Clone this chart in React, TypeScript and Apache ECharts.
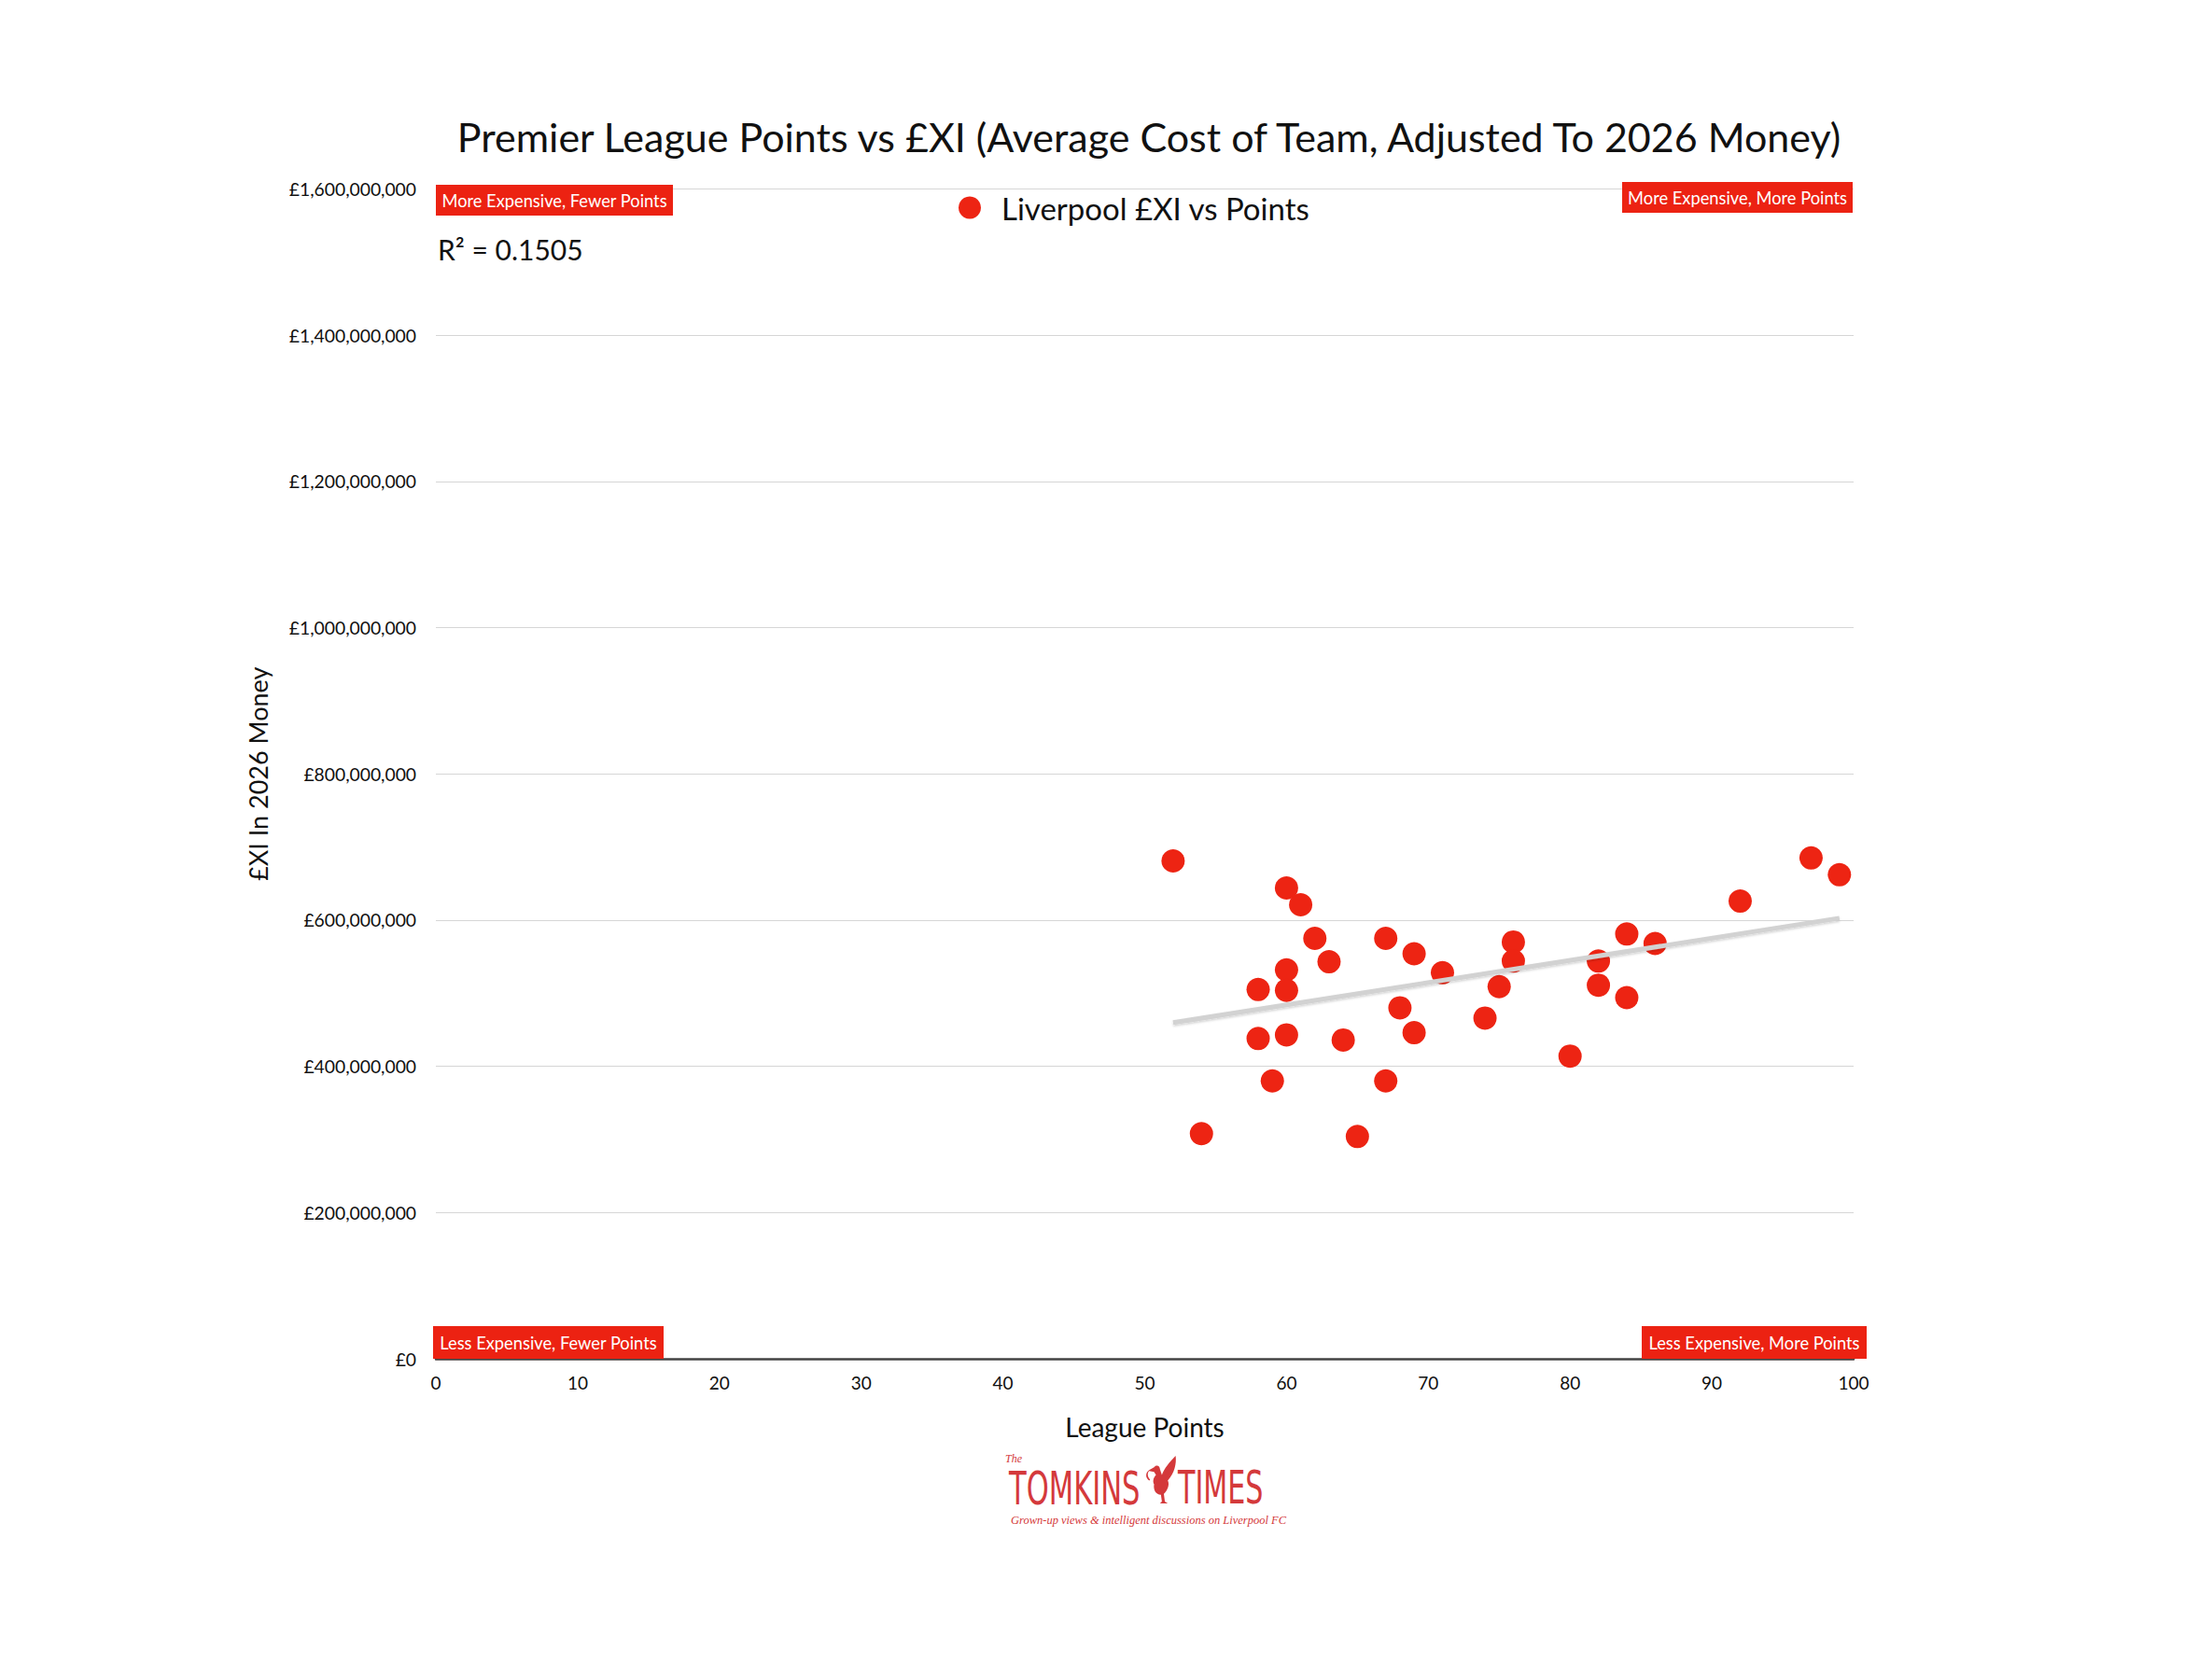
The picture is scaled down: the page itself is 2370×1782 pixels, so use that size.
import React, { useEffect, useRef } from "react";
import * as echarts from "echarts";

// League points per season
const leaguePoints = [
  52, 54, 58, 58, 59, 60, 60, 60, 60, 61, 62, 63, 64, 65, 67, 67, 68,
  69, 69, 71, 74, 75, 76, 76, 80, 82, 82, 84, 84, 86, 92, 97, 99,
];
// £XI in 2026 money, in millions of pounds
const xiCostMillions = [
  681, 308, 505, 438, 380, 644, 532, 504, 443, 621, 575, 543, 436, 304, 575, 380, 480,
  554, 446, 528, 466, 509, 570, 544, 414, 544, 511, 581, 494, 568, 626, 685, 662,
];
const xTicks = [0, 100, 10]; // min, max, interval
const yTicks = [0, 1600000000, 200000000]; // min, max, interval
const seriesName = "Liverpool £XI vs Points";
const rSquaredText = "R² = 0.1505";
const quadrantLabels = [
  "More Expensive, Fewer Points",
  "More Expensive, More Points",
  "Less Expensive, Fewer Points",
  "Less Expensive, More Points",
];

const RED = "#ED2413";
const FONT = "Lato, 'Noto Sans', sans-serif";

const birdPath =
  "M10 12 C12 9 16 10 16 14 L18 20 C20 14 26 6 32 0 C33 8 31 18 24 26 C26 30 24 36 20 40 L21 48 L24 50 L16 50 L18 48 L17 41 C12 41 9 36 10 30 C8 26 10 22 12 20 L10 17 L5 16 C3 18 3 22 6 25 L5 26 C1 23 1 18 5 15 Z";

let registered = false;

function regression(xs: number[], ys: number[]) {
  const n = xs.length;
  let sx = 0, sy = 0, sxx = 0, sxy = 0;
  for (let i = 0; i < n; i++) {
    sx += xs[i];
    sy += ys[i];
    sxx += xs[i] * xs[i];
    sxy += xs[i] * ys[i];
  }
  const slope = (n * sxy - sx * sy) / (n * sxx - sx * sx);
  const intercept = (sy - slope * sx) / n;
  return { slope, intercept };
}

function quadBox(label: string, x: number, y: number, w: number, h: number) {
  return {
    type: "group",
    x,
    y,
    z: 100,
    children: [
      { type: "rect", z: 100, shape: { x: 0, y: 0, width: w, height: h }, style: { fill: "#EC2212" } },
      {
        type: "text",
        z: 101,
        x: w / 2,
        y: h / 2,
        style: {
          text: label,
          fill: "#ffffff",
          font: `18.3px ${FONT}`,
          align: "center",
          verticalAlign: "middle",
        },
      },
    ],
  };
}

export default function App() {
  const ref = useRef<HTMLDivElement>(null);

  useEffect(() => {
    document.body.style.margin = "0";
    if (!registered) {
      echarts.graphic.registerShape("liverbird", echarts.graphic.extendPath(birdPath, {}));
      registered = true;
    }
    const chart = echarts.init(ref.current!, null, { renderer: "svg" });

    const values = xiCostMillions.map((v) => v * 1e6);
    const data = leaguePoints.map((p, i) => [p, values[i]]);
    const { slope, intercept } = regression(leaguePoints, values);
    const xMin = Math.min(...leaguePoints);
    const xMax = Math.max(...leaguePoints);
    const trend = [
      [xMin, intercept + slope * xMin],
      [xMax, intercept + slope * xMax],
    ];

    const logoRed = "#D4393B";
    const logoFont = `50px 'DejaVu Sans Condensed', 'DejaVu Sans', sans-serif`;

    chart.setOption({
      animation: false,
      backgroundColor: "#ffffff",
      textStyle: { fontFamily: FONT },
      title: {
        text: "Premier League Points vs £XI (Average Cost of Team, Adjusted To 2026 Money)",
        left: 1226,
        top: 120,
        textAlign: "center",
        textStyle: { fontFamily: FONT, fontSize: 43, fontWeight: "normal", color: "#111" },
      },
      legend: {
        data: [seriesName],
        left: 1022,
        top: 201,
        icon: "circle",
        itemWidth: 24,
        itemHeight: 24,
        textStyle: { fontFamily: FONT, fontSize: 33, color: "#111", padding: [0, 0, 0, 17] },
      },
      grid: { left: 467, right: 384, top: 202.5, bottom: 326, containLabel: false },
      xAxis: {
        type: "value",
        min: xTicks[0],
        max: xTicks[1],
        interval: xTicks[2],
        name: "League Points",
        nameLocation: "middle",
        nameGap: 59,
        nameTextStyle: { fontFamily: FONT, fontSize: 28, color: "#111" },
        axisLine: { show: true, lineStyle: { color: "#444", width: 2.5 } },
        axisTick: { show: false },
        splitLine: { show: false },
        axisLabel: { fontFamily: FONT, fontSize: 19, color: "#111", margin: 16 },
      },
      yAxis: {
        type: "value",
        min: yTicks[0],
        max: yTicks[1],
        interval: yTicks[2],
        name: "£XI In 2026 Money",
        nameLocation: "middle",
        nameGap: 177,
        nameRotate: 90,
        nameTextStyle: { fontFamily: FONT, fontSize: 27, color: "#111" },
        axisLine: { show: false },
        axisTick: { show: false },
        splitLine: { show: true, lineStyle: { color: "#d6d6d6", width: 1.2 } },
        axisLabel: {
          fontFamily: FONT,
          fontSize: 19.3,
          color: "#111",
          margin: 21,
          formatter: (v: number) => "£" + v.toLocaleString("en-US"),
        },
      },
      series: [
        {
          name: seriesName,
          type: "scatter",
          data,
          symbol: "circle",
          symbolSize: 25,
          itemStyle: { color: RED, opacity: 1 },
          z: 2,
        },
        {
          name: "Trend",
          type: "line",
          data: trend,
          symbol: "none",
          lineStyle: {
            color: "#d2d2d2",
            width: 5,
            shadowColor: "rgba(0,0,0,0.18)",
            shadowBlur: 2,
            shadowOffsetY: 1.5,
          },
          z: 3,
          silent: true,
        },
      ],
      graphic: [
        {
          type: "text",
          x: 469,
          y: 267,
          z: 100,
          style: {
            text: rSquaredText,
            font: `30px ${FONT}`,
            fill: "#111",
            verticalAlign: "middle",
          },
        },
        quadBox(quadrantLabels[0], 467, 198, 254, 33),
        quadBox(quadrantLabels[1], 1738, 195, 247, 33),
        quadBox(quadrantLabels[2], 464, 1421, 247, 35),
        quadBox(quadrantLabels[3], 1759, 1421, 241, 35),
        {
          type: "group",
          x: 0,
          y: 0,
          z: 100,
          children: [
            {
              type: "text",
              x: 1077,
              y: 1563,
              style: {
                text: "The",
                font: `italic 12px 'Liberation Serif', serif`,
                fill: logoRed,
                verticalAlign: "middle",
              },
            },
            {
              type: "text",
              x: 1081,
              y: 1594,
              scaleX: 0.68,
              style: {
                text: "TOMKINS",
                font: logoFont,
                fill: logoRed,
                verticalAlign: "middle",
              },
            },
            {
              type: "liverbird",
              x: 1226,
              y: 1560,
              scaleX: 1.05,
              scaleY: 1.02,
              style: { fill: logoRed },
            },
            {
              type: "text",
              x: 1262,
              y: 1594,
              scaleX: 0.67,
              style: {
                text: "TIMES",
                font: logoFont,
                fill: logoRed,
                verticalAlign: "middle",
              },
            },
            {
              type: "text",
              x: 1083,
              y: 1629,
              style: {
                text: "Grown-up views & intelligent discussions on Liverpool FC",
                font: `italic 12.5px 'Liberation Serif', serif`,
                fill: logoRed,
                verticalAlign: "middle",
              },
            },
          ],
        },
      ],
    });

    return () => chart.dispose();
  }, []);

  return <div ref={ref} style={{ width: 2370, height: 1782 }} />;
}
